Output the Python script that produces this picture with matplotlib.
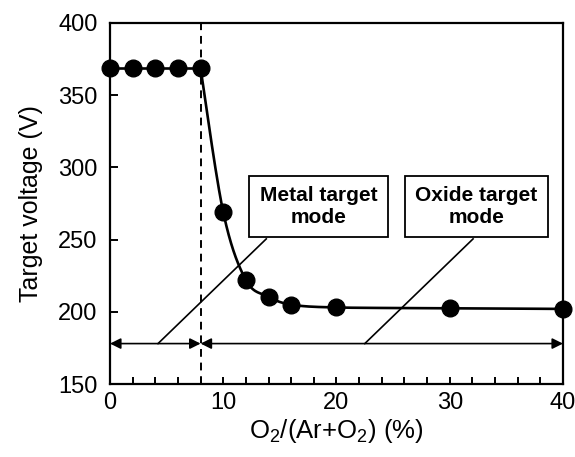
import numpy as np
import matplotlib
matplotlib.use('Agg')
import matplotlib.pyplot as plt
from matplotlib.ticker import MultipleLocator

plt.rcParams['font.family'] = ['Liberation Sans', 'DejaVu Sans']
plt.rcParams['mathtext.fontset'] = 'custom'
plt.rcParams['mathtext.rm'] = 'Liberation Sans'
plt.rcParams['mathtext.it'] = 'Liberation Sans:italic'
plt.rcParams['mathtext.bf'] = 'Liberation Sans:bold'

# data
o2_ratio = [0, 2, 4, 6, 8, 10, 12, 14, 16, 20, 30, 40]
voltage = [368.5, 368.5, 368.5, 368.5, 368.5, 269, 222, 210.5, 205, 203, 202.5, 202]
transition = 8
arrow_level = 178


def smooth(xs, ys, n=30):
    """Excel-style smoothed line (Bezier with 1/6 tangents), in scaled units"""
    sx, sy = 40.0, 250.0
    p = np.column_stack([np.asarray(xs) / sx, np.asarray(ys) / sy])
    p = np.vstack([p[0], p, p[-1]])
    out = []
    t = np.linspace(0, 1, n)[:, None]
    for i in range(1, len(p) - 2):
        p0, p1 = p[i], p[i + 1]
        c1 = p0 + (p[i + 1] - p[i - 1]) / 6
        c2 = p1 - (p[i + 2] - p[i]) / 6
        seg = ((1 - t) ** 3) * p0 + 3 * ((1 - t) ** 2) * t * c1 + 3 * (1 - t) * t ** 2 * c2 + t ** 3 * p1
        out.append(seg)
    out = np.vstack(out)
    return out[:, 0] * sx, out[:, 1] * sy


fig = plt.figure(figsize=(5.75, 4.57), dpi=100)
ax = fig.add_axes([0.1913, 0.1597, 0.7878, 0.79])

# flat part up to the transition, smoothed part after it
k = o2_ratio.index(transition)
ax.plot(o2_ratio[:k + 1], voltage[:k + 1], color='black', lw=1.9, zorder=3)
cx, cy = smooth(o2_ratio[k:], voltage[k:])
ax.plot(cx, cy, color='black', lw=1.9, zorder=3, clip_on=False)
ax.plot(o2_ratio, voltage, 'o', color='black', ms=12, zorder=4, clip_on=False)

ax.axvline(transition, color='black', lw=1.4, ls=(0, (4, 3)), zorder=2)

# mode ranges
arrow_kw = dict(arrowstyle='<|-|>', color='black', lw=1.2, mutation_scale=16, shrinkA=0, shrinkB=0)
ax.annotate('', xy=(0, arrow_level), xytext=(transition, arrow_level), arrowprops=arrow_kw)
ax.annotate('', xy=(transition, arrow_level), xytext=(40, arrow_level), arrowprops=arrow_kw)

# callout lines and boxes
ax.plot([4.24, 13.8], [arrow_level, 250.5], color='black', lw=1.2, zorder=2)
ax.plot([22.5, 32.06], [arrow_level, 250.5], color='black', lw=1.2, zorder=2)
box_kw = dict(boxstyle='square,pad=0.5', fc='white', ec='black', lw=1.3)
ax.text(18.4, 272.9, 'Metal target\nmode', ha='center', va='center', fontsize=15,
        fontweight='bold', bbox=box_kw, zorder=5, linespacing=1.2)
ax.text(32.36, 272.9, 'Oxide target\nmode', ha='center', va='center', fontsize=15,
        fontweight='bold', bbox=box_kw, zorder=5, linespacing=1.2)

ax.set_xlim(0, 40)
ax.set_ylim(150, 400)
ax.xaxis.set_major_locator(MultipleLocator(10))
ax.xaxis.set_minor_locator(MultipleLocator(2))
ax.yaxis.set_major_locator(MultipleLocator(50))
ax.tick_params(axis='both', which='both', direction='in', labelsize=17, width=1.4)
ax.tick_params(axis='x', which='both', length=5, pad=6)
ax.tick_params(axis='y', length=6, pad=9)
for s in ax.spines.values():
    s.set_linewidth(1.6)

ax.set_xlabel('O$_2$/(Ar+O$_2$) (%)', fontsize=18.5, labelpad=2)
ax.set_ylabel('Target voltage (V)', fontsize=18, labelpad=11)

fig.savefig('out.png', dpi=100)
